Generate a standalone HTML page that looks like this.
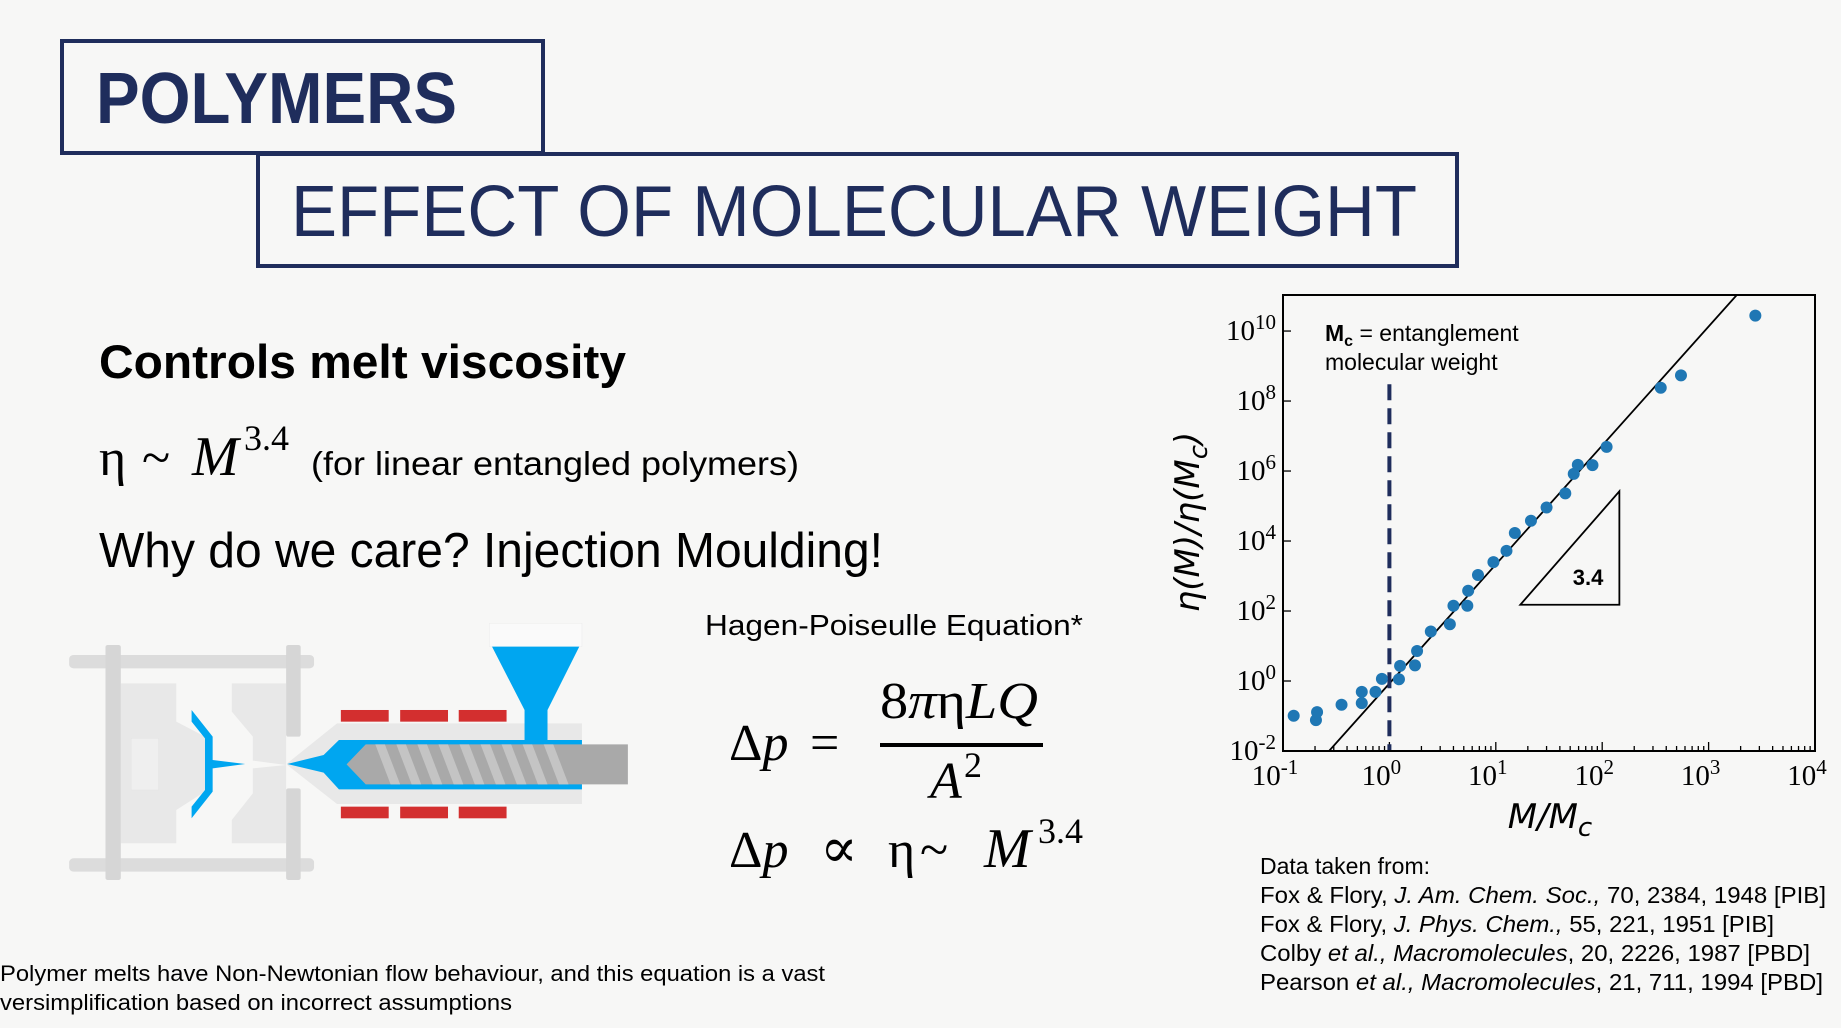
<!DOCTYPE html>
<html><head><meta charset="utf-8"><style>
html,body{margin:0;padding:0;background:#f7f7f6;}
svg{display:block;}
.sans{font-family:"Liberation Sans",sans-serif;}
.serif{font-family:"Liberation Serif","DejaVu Serif",serif;}
</style></head><body>
<svg id="page" width="1841" height="1028" viewBox="0 0 1841 1028" xmlns="http://www.w3.org/2000/svg">
<rect x="0" y="0" width="1841" height="1028" fill="#f7f7f6"/>

<rect x="62" y="41" width="481" height="112" fill="none" stroke="#1f2d5c" stroke-width="4"/>
<text x="96" y="123" class="sans" font-size="72" font-weight="bold" fill="#1f2d5c" textLength="361" lengthAdjust="spacingAndGlyphs">POLYMERS</text>
<rect x="258" y="154" width="1199" height="112" fill="none" stroke="#1f2d5c" stroke-width="4"/>
<text x="291" y="236" class="sans" font-size="72" fill="#1f2d5c" textLength="1126" lengthAdjust="spacingAndGlyphs">EFFECT OF MOLECULAR WEIGHT</text>

<text x="99" y="378" class="sans" font-size="47" font-weight="bold" fill="#000" textLength="527" lengthAdjust="spacingAndGlyphs">Controls melt viscosity</text>
<g>
<text x="99" y="475" class="serif" font-size="52" fill="#000">η</text>
<text x="142" y="475" class="serif" font-size="52" fill="#000">~</text>
<text x="192" y="475" class="serif" font-size="56" font-style="italic" fill="#000">M</text>
<text x="244" y="450" class="serif" font-size="36" fill="#000">3.4</text>
</g>
<text x="311" y="475" class="sans" font-size="33" fill="#000" textLength="488" lengthAdjust="spacingAndGlyphs">(for linear entangled polymers)</text>
<text x="99" y="567" class="sans" font-size="49" fill="#000" textLength="784" lengthAdjust="spacingAndGlyphs">Why do we care? Injection Moulding!</text>

<g transform="translate(50,600) scale(0.3827,0.3333)">
<rect x="50" y="165" width="640" height="40" rx="12" fill="#dcdcdc"/>
<rect x="50" y="775" width="640" height="40" rx="12" fill="#dcdcdc"/>
<polygon points="185,250 330,250 330,365 405,410 405,575 330,630 330,730 185,730" fill="#e8e8e8"/>
<rect x="212" y="415" width="72" height="155" fill="#efefef" stroke="#e0e0e0"/>
<polygon points="475,250 617,250 617,730 475,730 475,660 530,580 530,505 617,495 530,482 530,410 475,335" fill="#e8e8e8"/>
<rect x="145" y="135" width="40" height="705" rx="6" fill="#d6d6d6"/>
<rect x="617" y="135" width="38" height="275" rx="6" fill="#d6d6d6"/>
<rect x="617" y="565" width="38" height="275" rx="6" fill="#d6d6d6"/>
<polygon points="370,330 425,410 425,480 510,492 425,505 425,575 370,655 370,620 405,570 405,415 370,365" fill="#00a6f0"/>
<polygon points="620,490 750,370 1390,370 1390,612 750,612 620,495" fill="#e8e8e8"/>
<polygon points="620,492 715,465 755,420 1390,420 1390,568 755,568 715,518" fill="#00a6f0"/>
<polygon points="775,493 825,433 1510,433 1510,553 825,553" fill="#a9a9a9"/>
<g fill="#c4c4c4">
<polygon points="850,433 875,433 915,553 890,553"/><polygon points="905,433 930,433 970,553 945,553"/><polygon points="960,433 985,433 1025,553 1000,553"/><polygon points="1015,433 1040,433 1080,553 1055,553"/><polygon points="1070,433 1095,433 1135,553 1110,553"/><polygon points="1125,433 1150,433 1190,553 1165,553"/><polygon points="1180,433 1205,433 1245,553 1220,553"/><polygon points="1235,433 1260,433 1300,553 1275,553"/><polygon points="1290,433 1315,433 1355,553 1330,553"/>
</g>
<g fill="#d32f2f">
<rect x="760" y="330" width="125" height="35"/><rect x="915" y="330" width="125" height="35"/><rect x="1068" y="330" width="125" height="35"/>
<rect x="760" y="620" width="125" height="35"/><rect x="915" y="620" width="125" height="35"/><rect x="1068" y="620" width="125" height="35"/>
</g>
<rect x="1148" y="70" width="242" height="70" fill="#fafafa" stroke="#e6e6e6"/>
<polygon points="1155,140 1383,140 1300,330 1300,420 1240,420 1240,330" fill="#00a6f0"/>
</g>

<text x="705" y="635" class="sans" font-size="29" fill="#000" textLength="378" lengthAdjust="spacingAndGlyphs">Hagen-Poiseulle Equation*</text>
<g class="serif" fill="#000">
<text x="729" y="760" font-size="52">Δ<tspan font-style="italic">p</tspan></text>
<text x="810" y="760" font-size="52">=</text>
<text x="880" y="718" font-size="52" textLength="158" lengthAdjust="spacingAndGlyphs">8<tspan font-style="italic">π</tspan>η<tspan font-style="italic">LQ</tspan></text>
<rect x="880" y="743" width="163" height="4" fill="#000"/>
<text x="930" y="798" font-size="52" font-style="italic">A</text>
<text x="964" y="777" font-size="36">2</text>
</g>
<g class="serif" fill="#000">
<text x="729" y="867" font-size="52">Δ<tspan font-style="italic">p</tspan></text>
<text x="820" y="867" font-size="56">∝</text>
<text x="888" y="867" font-size="52">η</text>
<text x="920" y="867" font-size="52">~</text>
<text x="984" y="867" font-size="56" font-style="italic">M</text>
<text x="1038" y="843" font-size="36">3.4</text>
</g>
<text x="0" y="981" class="sans" font-size="22" fill="#000" textLength="825" lengthAdjust="spacingAndGlyphs">Polymer melts have Non-Newtonian flow behaviour, and this equation is a vast</text>
<text x="0" y="1010" class="sans" font-size="22" fill="#000" textLength="512" lengthAdjust="spacingAndGlyphs">versimplification based on incorrect assumptions</text>

<g class="sans" font-size="23" fill="#000">
<text x="1260" y="874">Data taken from:</text>
<text x="1260" y="903" textLength="566" lengthAdjust="spacingAndGlyphs">Fox &amp; Flory, <tspan font-style="italic">J. Am. Chem. Soc.,</tspan> 70, 2384, 1948 [PIB]</text>
<text x="1260" y="932" textLength="514" lengthAdjust="spacingAndGlyphs">Fox &amp; Flory, <tspan font-style="italic">J. Phys. Chem.,</tspan> 55, 221, 1951 [PIB]</text>
<text x="1260" y="961" textLength="550" lengthAdjust="spacingAndGlyphs">Colby <tspan font-style="italic">et al., Macromolecules</tspan>, 20, 2226, 1987 [PBD]</text>
<text x="1260" y="990" textLength="563" lengthAdjust="spacingAndGlyphs">Pearson <tspan font-style="italic">et al., Macromolecules</tspan>, 21, 711, 1994 [PBD]</text>
</g>

<g id="chart"></g>
</svg>
<script>
const mRatio = [0.126,0.204,0.209,0.355,0.55,0.55,0.74,0.85,1.23,1.26,1.74,1.82,2.45,3.7,4.0,5.4,5.5,6.8,9.5,12.6,15.1,21.4,30,45,54,59,81,110,355,550,2750];
const viscRatio = [0.102,0.076,0.129,0.209,0.49,0.234,0.49,1.15,1.12,2.7,2.8,7.2,26,42,141,141,380,1070,2500,5250,17000,38000,91000,230000,830000,1.5e6,1.48e6,4.9e6,2.4e8,5.4e8,2.75e10];
const xTickExp = [-1,0,1,2,3,4];
const yTickExp = [-2,0,2,4,6,8,10];
const fitSlope = [3.4];
const fitPrefactor = [0.85];
const triangleX = [17,145];
const triangleY = [151,263000];
const mcValue = [1];

const NS='http://www.w3.org/2000/svg';
const L=1283,R=1815,T=295,B=751;
const xMin=-1,xMax=4,yMin=-2,yMax=11.03;
function sx(v){return L+(Math.log10(v)-xMin)/(xMax-xMin)*(R-L);}
function sy(v){return B-(Math.log10(v)-yMin)/(yMax-yMin)*(B-T);}
const chart=document.getElementById('chart');
function mk(tag,attrs,parent){const e=document.createElementNS(NS,tag);for(const k in attrs)e.setAttribute(k,attrs[k]);(parent||chart).appendChild(e);return e;}

const defs=mk('defs',{});
const cp=mk('clipPath',{id:'plotclip'},defs);
mk('rect',{x:L,y:T,width:R-L,height:B-T},cp);

for(let e=xMin;e<xMax;e++){for(let k=1;k<10;k++){const x=sx(k*Math.pow(10,e));const len=k===1?9:5;
const t=mk('line',{x1:x,x2:x,y1:B,y2:B-len,stroke:'#000','stroke-width':1.3});

}}
for(const e of yTickExp){const y=sy(Math.pow(10,e));
const t=mk('line',{x1:L,x2:L+8,y1:y,y2:y,stroke:'#000','stroke-width':1.3});

}

const x0=0.2,x1=5000;
const fit=mk('line',{x1:sx(x0),y1:sy(fitPrefactor[0]*Math.pow(x0,fitSlope[0])),x2:sx(x1),y2:sy(fitPrefactor[0]*Math.pow(x1,fitSlope[0])),stroke:'#000','stroke-width':1.8,'clip-path':'url(#plotclip)'});



const dl=mk('line',{x1:sx(mcValue[0]),x2:sx(mcValue[0]),y1:sy(Math.pow(10,8.48)),y2:B,stroke:'#1f2d5c','stroke-width':4,'stroke-dasharray':'16 8'});



const tri=mk('polygon',{points:`${sx(triangleX[0])},${sy(triangleY[0])} ${sx(triangleX[1])},${sy(triangleY[0])} ${sx(triangleX[1])},${sy(triangleY[1])}`,fill:'none',stroke:'#000','stroke-width':1.8});


const tl=mk('text',{x:sx(triangleX[1])-16,y:sy(triangleY[0])-20,'text-anchor':'end','font-family':'Liberation Sans, sans-serif','font-size':22,'font-weight':'bold'});
tl.textContent=fitSlope[0].toFixed(1);



for(let i=0;i<mRatio.length;i++){
const c=mk('circle',{cx:sx(mRatio[i]),cy:sy(viscRatio[i]),r:6,fill:'#1f77b4'});

}

const fr=mk('rect',{x:L,y:T,width:R-L,height:B-T,fill:'none',stroke:'#000','stroke-width':2});



for(const e of xTickExp){const t=mk('text',{x:sx(Math.pow(10,e))-8,y:785,'text-anchor':'middle','font-family':'Liberation Serif, serif','font-size':29});
t.innerHTML='10<tspan dy="-11" font-size="21">'+e+'</tspan>';

}
for(const e of yTickExp){const t=mk('text',{x:1276,y:sy(Math.pow(10,e))+9,'text-anchor':'end','font-family':'Liberation Serif, serif','font-size':29});
t.innerHTML='10<tspan dy="-11" font-size="21">'+e+'</tspan>';

}

const xt=mk('text',{x:1550,y:828,'text-anchor':'middle','font-family':'DejaVu Sans, sans-serif','font-size':34,'font-style':'italic'});
xt.innerHTML='M/M<tspan dy="8" font-size="26">c</tspan>';


const yt=mk('text',{x:0,y:0,'text-anchor':'middle','font-family':'DejaVu Sans, sans-serif','font-size':34,'font-style':'italic',transform:'translate(1199,522) rotate(-90)'});
yt.innerHTML='η(M)/η(M<tspan dy="8" font-size="26">c</tspan><tspan dy="-8">)</tspan>';



const an=mk('text',{x:1325,y:341,'font-family':'Liberation Sans, sans-serif','font-size':23});
an.innerHTML='<tspan font-weight="bold">M<tspan dy="5" font-size="16">c</tspan></tspan><tspan dy="-5"> = entanglement</tspan><tspan x="1325" dy="29">molecular weight</tspan>';


</script>
</body></html>
